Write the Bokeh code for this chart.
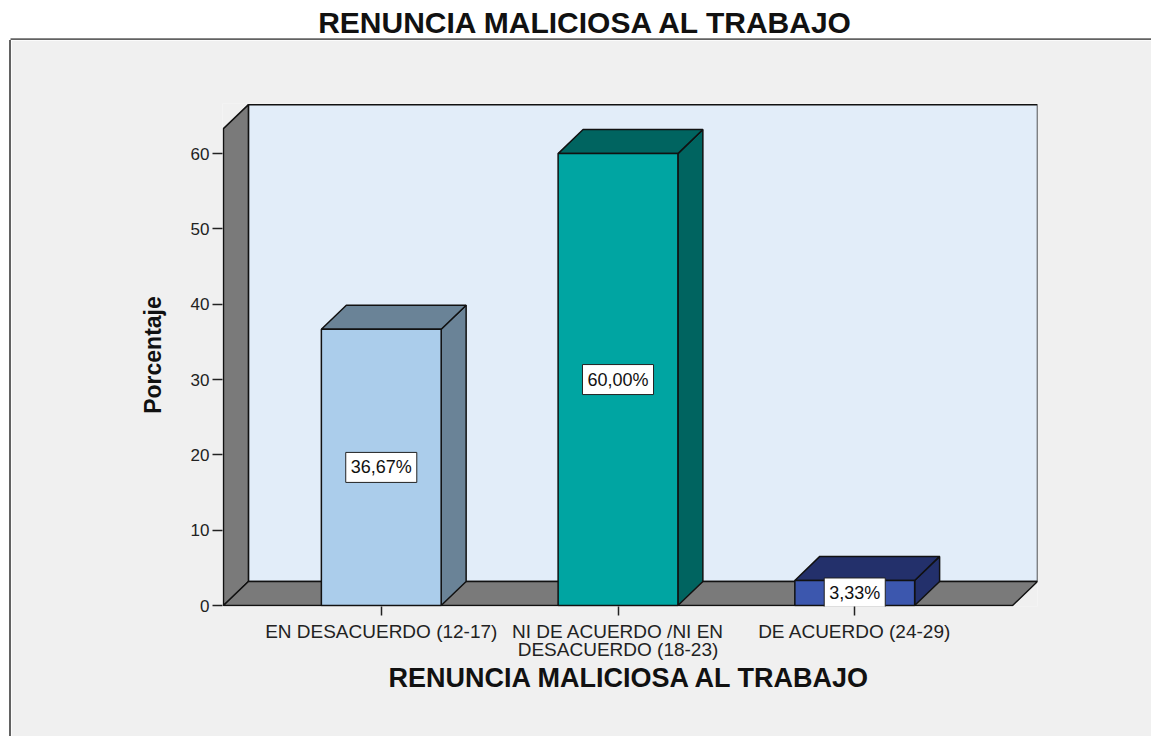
from bokeh.plotting import figure
from bokeh.layouts import column, row
from bokeh.models import FixedTicker, ColumnDataSource, Div
from bokeh.core.properties import value
from bokeh.embed import file_html
from bokeh.resources import INLINE

# ---------------- data ----------------
categories = ["EN DESACUERDO (12-17)",
              "NI DE ACUERDO /NI EN\nDESACUERDO (18-23)",
              "DE ACUERDO (24-29)"]
percentages = [36.67, 60.00, 3.33]
bar_labels = ["36,67%", "60,00%", "3,33%"]
y_ticks = [0, 10, 20, 30, 40, 50, 60]
title_text = "RENUNCIA MALICIOSA AL TRABAJO"
x_title = "RENUNCIA MALICIOSA AL TRABAJO"
y_title = "Porcentaje"

# ---------------- styles / geometry ----------------
front_colors = ["#abcdeb", "#00a5a2", "#3c57ae"]
side_colors = ["#6a8397", "#006460", "#23306b"]
WALL = "#7a7a7a"
BACK = "#e2edf9"
PANEL = "#f0f0f0"
EDGE = "#111111"
FRAME_LINE = "#626262"

positions = [1, 2, 3]
DX = 0.1055      # depth offset (x units)
DY = 3.19        # depth offset (y units)
HW = 0.253       # half bar width
X0, X1 = 1 / 3, 3 + 2 / 3
WALL_TOP = 66.5

W, TOP_H, MAIN_H, STRIP_W = 1151, 40, 696, 11

# ---------- title strip (white) ----------
top = figure(width=W, height=TOP_H, x_range=(0, W), y_range=(0, TOP_H),
             x_axis_type=None, y_axis_type=None, min_border=0,
             output_backend="svg", toolbar_location=None,
             background_fill_color="white", border_fill_color="white",
             outline_line_color=None)
top.grid.visible = False
top.text(x=[586], y=[TOP_H - 22], text=[title_text],
         text_align="center", text_baseline="middle",
         text_font=value("Liberation Sans"), text_font_style="bold",
         text_font_size="30px", text_color="#111111")
top.segment(x0=[10], y0=[1], x1=[W], y1=[1], line_color=FRAME_LINE, line_width=2.5)

# ---------- left white margin with the panel border ----------
strip = Div(text="", width=STRIP_W, height=MAIN_H, margin=0,
            styles={"background-color": "white",
                    "border-right": "2px solid " + FRAME_LINE,
                    "box-sizing": "border-box"})

# ---------- main chart ----------
MW = W - STRIP_W
p = figure(width=MW, height=MAIN_H,
           x_range=(X0 - 0.004, 3.772), y_range=(-0.13, 66.65),
           output_backend="svg", toolbar_location=None,
           min_border_left=222 - STRIP_W, min_border_right=W - 1037,
           min_border_top=103 - TOP_H, min_border_bottom=TOP_H + MAIN_H - 606,
           background_fill_color=PANEL, border_fill_color=PANEL,
           outline_line_color=None)

# walls & floor
p.patch([X0 + DX, X1 + DX, X1 + DX, X0 + DX], [DY, DY, WALL_TOP, WALL_TOP],
        fill_color=BACK, line_color=EDGE, line_width=1.5)
p.patch([X0, X0 + DX, X0 + DX, X0], [0, DY, WALL_TOP, WALL_TOP - DY],
        fill_color=WALL, line_color=EDGE, line_width=1.5)
p.patch([X0, X1, X1 + DX, X0 + DX], [0, 0, DY, DY],
        fill_color=WALL, line_color=EDGE, line_width=1.5)

# bars
side_xs, side_ys, top_xs, top_ys = [], [], [], []
for c, v in zip(positions, percentages):
    side_xs.append([c + HW, c + HW + DX, c + HW + DX, c + HW])
    side_ys.append([0, DY, v + DY, v])
    top_xs.append([c - HW, c + HW, c + HW + DX, c - HW + DX])
    top_ys.append([v, v, v + DY, v + DY])

p.patches(side_xs, side_ys, fill_color=side_colors, line_color=EDGE, line_width=1.5)
p.patches(top_xs, top_ys, fill_color=side_colors, line_color=EDGE, line_width=1.5)
src = ColumnDataSource(dict(x=positions, top=percentages, color=front_colors,
                            ymid=[v / 2 for v in percentages], label=bar_labels))
p.vbar(x="x", top="top", bottom=0, width=2 * HW, source=src,
       fill_color="color", line_color=EDGE, line_width=1.5)

p.text(x="x", y="ymid", text="label", source=src,
       text_align="center", text_baseline="middle",
       text_font=value("Liberation Sans"), text_font_size="18px", text_color="#111111",
       background_fill_color="white", border_line_color="#222222", border_line_width=1,
       padding=5)

# axes
p.grid.visible = False
p.xaxis.ticker = FixedTicker(ticks=positions)
p.xaxis.major_label_overrides = {pos: cat for pos, cat in zip(positions, categories)}
p.yaxis.ticker = FixedTicker(ticks=y_ticks)
for ax in (p.xaxis[0], p.yaxis[0]):
    ax.axis_line_color = None
    ax.minor_tick_line_color = None
    ax.major_tick_in = 0
    ax.major_tick_line_color = "#222222"
    ax.major_tick_line_width = 1.5
    ax.major_label_text_font = "Liberation Sans"
    ax.major_label_text_color = "#222222"
    ax.axis_label_text_font = "Liberation Sans"
    ax.axis_label_text_font_style = "bold"
    ax.axis_label_text_color = "#111111"

p.xaxis.major_tick_out = 9
p.xaxis.major_label_standoff = 5
p.xaxis.major_label_text_font_size = "19px"
p.xaxis.major_label_text_line_height = 0.9
p.xaxis.axis_label = x_title
p.xaxis.axis_label_text_font_size = "27px"
p.xaxis.axis_label_standoff = 0

p.yaxis.major_tick_out = 10
p.yaxis.major_label_standoff = 3
p.yaxis.major_label_text_font_size = "17px"
p.yaxis.axis_label = y_title
p.yaxis.axis_label_text_font_size = "23px"
p.yaxis.axis_label_standoff = 22

layout = column(top, row(strip, p))
open("out.html", "w").write(file_html(layout, INLINE))
